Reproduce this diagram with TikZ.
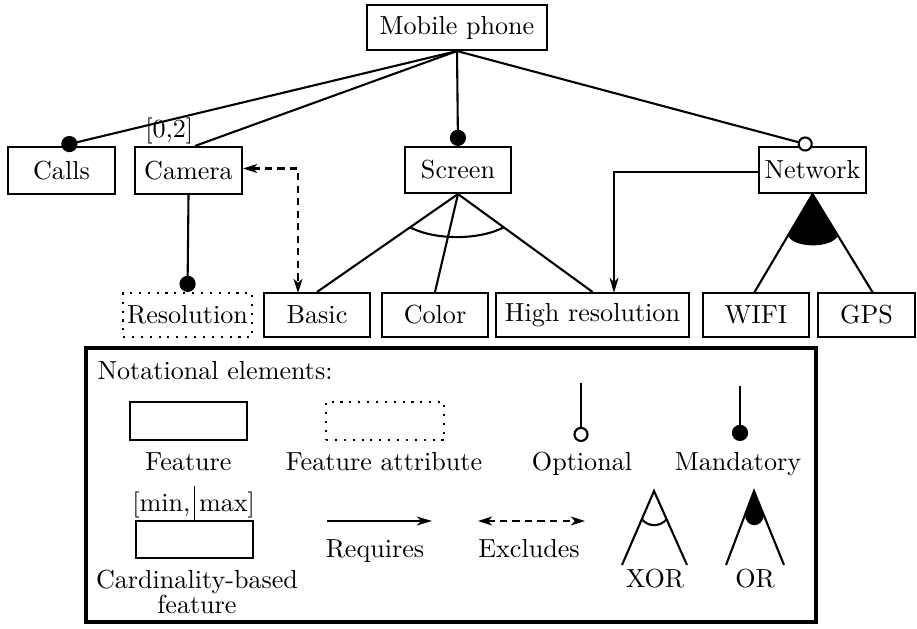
\documentclass[tikz,border=0pt]{standalone}
\usetikzlibrary{arrows.meta,calc}
\newdimen\pxu \pxu=0.383pt
\tikzset{
  feat/.style={draw, thick, inner sep=0pt, minimum height=46\pxu},
  attr/.style={draw, thick, dash pattern=on 0.8pt off 2.6pt, inner sep=0pt},
  conn/.style={thick},
  mand/.style={thick, -{Circle[length=6.2pt]}},
  opt/.style={thick, -{Circle[open, length=5.8pt, fill=white]}},
  req/.style={thick, -{Stealth[length=5.8pt, width=3.4pt, inset=1.6pt]}},
  excl/.style={thick, dash pattern=on 2.8pt off 2pt,
    {Stealth[length=5.4pt, width=3.4pt, inset=1.5pt]}-{Stealth[length=5.4pt, width=3.4pt, inset=1.5pt]}},
  lbl/.style={anchor=base, inner sep=0pt},
}
\begin{document}
\begin{tikzpicture}[x=0.383pt, y=-0.383pt]
\useasboundingbox (0,0) rectangle (917,628);

% ---- feature tree ----
\node[feat, minimum width=180\pxu, minimum height=45\pxu] (mp) at (457,27.5) {Mobile phone};
\node[feat, minimum width=107\pxu, minimum height=47\pxu] (calls) at (61.5,170.5) {Calls};
\node[feat, minimum width=107\pxu, minimum height=47\pxu] (camera) at (188.5,170.5) {Camera};
\node[feat, minimum width=106\pxu] (screen) at (458,170) {Screen};
\node[feat, minimum width=107\pxu] (network) at (812.5,170) {Network};

\node[attr, minimum width=129\pxu, minimum height=44\pxu] (res) at (187.5,315) {Resolution};
\node[feat, minimum width=106\pxu, minimum height=44\pxu] (basic) at (317,315) {Basic};
\node[feat, minimum width=106\pxu, minimum height=44\pxu] (color) at (435,315) {Color};
\node[feat, minimum width=193\pxu, minimum height=44\pxu] (hires) at (592.5,315) {High resolution};
\node[feat, minimum width=106\pxu, minimum height=44\pxu] (wifi) at (756,315) {WIFI};
\node[feat, minimum width=97\pxu, minimum height=44\pxu] (gps) at (866.5,315) {GPS};

\node[anchor=south east, inner sep=0.5pt] (card) at ($(camera.north)+(6.5,0)$) {[0,2]};

\draw[mand] (mp.south) -- (calls.north);
\draw[conn] (mp.south) -- (camera.north -| card.east);
\draw[mand] (mp.south) -- (screen.north);
\draw[opt] (mp.south) -- (network.north);
\draw[mand] (camera.south) -- (res.north);

\draw[conn] (screen.south) -- (basic.north);
\draw[conn] (screen.south) -- (color.north);
\draw[conn] (screen.south) -- (hires.north);
\coordinate (xL) at ($(screen.south)!0.34!(basic.north)$);
\coordinate (xR) at ($(screen.south)!0.34!(hires.north)$);
\draw[conn] (xL) .. controls ($(xL)+(25,13)$) and ($(xR)+(-25,13)$) .. (xR);

\coordinate (wtop) at (754,293);
\coordinate (gtop) at (873,293);
\draw[conn] (network.south) -- (wtop);
\draw[conn] (network.south) -- (gtop);
\coordinate (orL) at ($(network.south)!0.42!(wtop)$);
\coordinate (orR) at ($(network.south)!0.42!(gtop)$);
\fill (network.south) -- (orL) .. controls ($(orL)+(6,13)$) and ($(orR)+(-6,13)$) .. (orR) -- cycle;

\coordinate (hrin) at (614,293);
\draw[req] ($(network.west)+(0,2)$) -| (hrin);
\coordinate (bain) at (298,293);
\draw[excl] ($(camera.east)+(0,-2)$) -| (bain);

% ---- legend ----
\node[draw, line width=1.2pt, inner sep=0pt, minimum width=730\pxu, minimum height=274\pxu] (legend) at (451,485) {};
\node[anchor=base west, inner sep=0pt] (nt) at (97,379) {Notational elements:};

\node[feat, minimum width=117\pxu, minimum height=38\pxu] (lf) at (188.5,421) {};
\node[lbl] (lfl) at (188.5,470) {Feature};
\node[attr, minimum width=118\pxu, minimum height=38\pxu] (la) at (385,421) {};
\node[lbl] (lal) at (384,470) {Feature attribute};
\coordinate (o1) at (581,383);
\coordinate (o2) at (581,442);
\draw[opt] (o1) -- (o2);
\node[lbl] (lol) at (582,470) {Optional};
\coordinate (m1) at (740,386);
\coordinate (m2) at (740,441);
\draw[mand] (m1) -- (m2);
\node[lbl] (lml) at (738,470) {Mandatory};

\node[feat, minimum width=117\pxu, minimum height=37\pxu] (lc) at (194.5,539.5) {};
\coordinate (ctop) at ($(lc.north)+(0,-34)$);
\draw[semithick] (lc.north) -- (ctop);
\node[anchor=base east, inner sep=0pt] (cmin) at (191,511) {[min,};
\node[anchor=base west, inner sep=0pt] (cmax) at (198.5,511) {max]};
\node[lbl] (lcl1) at (197,588) {Cardinality-based};
\node[lbl] (lcl2) at (197,613) {feature};

\coordinate (r1) at (327,521);
\coordinate (r2) at (432,521);
\draw[req] (r1) -- (r2);
\node[lbl] (lrl) at (375,557) {Requires};
\coordinate (e1) at (478,521);
\coordinate (e2) at (585,521);
\draw[excl] (e1) -- (e2);
\node[lbl] (lel) at (529,557) {Excludes};

\coordinate (xa) at (654,491);
\coordinate (xl) at (622,565);
\coordinate (xr) at (687,565);
\draw[conn] (xl) -- (xa) -- (xr);
\coordinate (xaL) at ($(xa)!0.38!(xl)$);
\coordinate (xaR) at ($(xa)!0.38!(xr)$);
\draw[conn] (xaL) .. controls ($(xaL)+(6,8)$) and ($(xaR)+(-6,8)$) .. (xaR);
\node[lbl] (lxl) at (655,587) {XOR};

\coordinate (oa) at (754,491);
\coordinate (ol) at (726,565);
\coordinate (or) at (784,565);
\draw[conn] (ol) -- (oa) -- (or);
\coordinate (oaL) at ($(oa)!0.33!(ol)$);
\coordinate (oaR) at ($(oa)!0.33!(or)$);
\fill (oa) -- (oaL) .. controls ($(oaL)+(2,13)$) and ($(oaR)+(-2,13)$) .. (oaR) -- cycle;
\node[lbl] (lorl) at (755,587) {OR};
\end{tikzpicture}
\end{document}
